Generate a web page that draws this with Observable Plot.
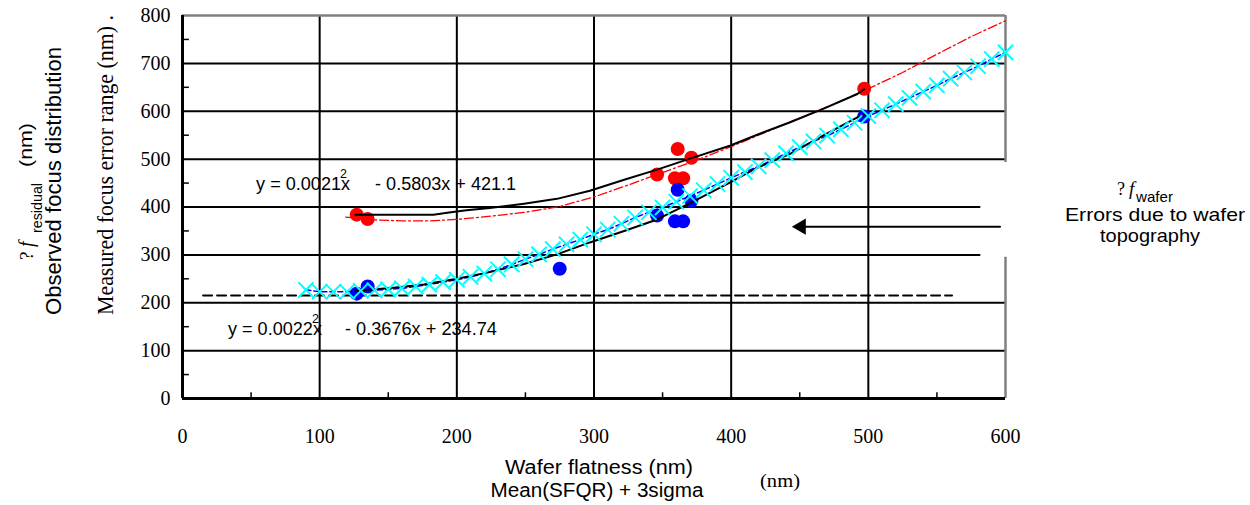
<!DOCTYPE html>
<html><head><meta charset="utf-8">
<script src="https://cdn.jsdelivr.net/npm/d3@7"></script>
<script src="https://cdn.jsdelivr.net/npm/@observablehq/plot@0.6"></script>
<style>
body{margin:0;background:#fff}
#chart{width:1250px;height:505px}
#chart svg g[aria-label$="tick label"] text{font-family:"Liberation Serif",serif;font-size:20px;fill:black}
</style>
</head><body><div id="chart"></div>
<script>
// ---- data ----
const xTicks = [0, 100, 200, 300, 400, 500, 600];
const yTicks = [0, 100, 200, 300, 400, 500, 600, 700, 800];
const xMinor = [50, 150, 250, 350, 450, 550];
const yMinor = [50, 150, 250, 350, 450, 550, 650, 750];
const gridFull = [100, 200, 500, 600, 700];
const gridShort = [300, 400];
const gridX = [100, 200, 300, 400, 500];

// measured focus error range (red) and wafer contribution (blue)
const redX = [127, 135, 346, 359, 361, 365, 371, 497];
const redY = [384, 375, 468, 460, 521, 460, 503, 647];
const blueX = [127, 135, 275, 346, 359, 361, 365, 371, 497];
const blueY = [219, 234, 271, 382, 370, 436, 370, 413, 589];

// cyan "x" markers on the blue trend line
const cyanX = [90,100,110,120,130,140,150,160,170,180,190,200,210,220,230,240,250,260,270,280,290,300,
  310,320,330,340,350,360,370,380,390,400,410,420,430,440,450,460,470,480,490,500,
  510,520,530,540,550,560,570,580,590,600];
const cyanY = [227,223,223,223,225,226,228,230,234,238,243,248,254,261,270,280,291,301,312,322,332,343,
  353,365,378,389,399,411,423,435,448,461,473,485,498,512,525,537,549,562,576,590,
  602,615,628,641,654,668,681,694,709,723];

// red dash-dot trend line
const redTrendX = [119,140,160,180,200,225,250,275,300,325,350,375,400,425,450,475,500,525,550,575,600];
const redTrendY = [379,373,371,371,374,381,389,401,421,446,472,498,526,556,586,615,647,681,719,756,789];

// upper and lower black curves
const upperX = [126,183,193,207,224,249,273,297,322,346,370,399,419,443,467,492,497];
const upperY = [384,384,388,393,398,407,417,434,457,478,501,528,551,577,605,636,646];
const lowerX = [126,152,176,200,224,249,273,297,322,346,370,399,419,443,467,492,497];
const lowerY = [225,231,238,250,264,281,301,326,350,374,408,451,482,511,549,587,592];

// horizontal dashed reference line and arrow
const dashX = [15, 561];
const dashY = 215;
const arrowX = [596, 451];
const arrowY = 359;

const pts = (xs, ys) => xs.map((x, i) => ({x, y: ys[i]}));
const red = pts(redX, redY);
const blue = pts(blueX, blueY);
const cyan = pts(cyanX, cyanY);
const redTrend = pts(redTrendX, redTrendY);
const upper = pts(upperX, upperY);
const lower = pts(lowerX, lowerY);

const plot = Plot.plot({
  width: 1250, height: 505,
  marginLeft: 182, marginRight: 245, marginTop: 15, marginBottom: 107,
  x: {domain: [0, 600]},
  y: {domain: [0, 800]},
  style: {background: "white", overflow: "visible"},
  marks: [
    Plot.axisY(yTicks, {tickSize: 0, tickPadding: 12, label: null}),
    Plot.axisX(xTicks, {tickSize: 0, tickPadding: 30, label: null}),
    // grid
    Plot.ruleY(gridFull, {x1: 0, x2: 600, stroke: "black", strokeWidth: 2}),
    Plot.ruleY(gridShort, {x1: 0, x2: 582, stroke: "black", strokeWidth: 2}),
    Plot.ruleX(gridX, {y1: 0, y2: 800, stroke: "black", strokeWidth: 2}),
    Plot.ruleY([800], {x1: 0, x2: 600, stroke: "#808080", strokeWidth: 2.5}),
    Plot.ruleX([600], {y1: 0, y2: 295, stroke: "#808080", strokeWidth: 2.5}),
    Plot.ruleX([600], {y1: 493, y2: 800, stroke: "#808080", strokeWidth: 2.5}),
    // minor ticks
    Plot.ruleY(yMinor, {x1: 0, x2: 5, stroke: "black", strokeWidth: 1.5}),
    Plot.ruleX(xMinor, {y1: 0, y2: 12, stroke: "black", strokeWidth: 1.5}),
    // dashed reference
    Plot.line(dashX.map(x => ({x, y: dashY})), {x: "x", y: "y", stroke: "black", strokeWidth: 2, strokeDasharray: "9,5"}),
    // arrow
    Plot.line(arrowX.map(x => ({x, y: arrowY})), {x: "x", y: "y", stroke: "black", strokeWidth: 2}),
    Plot.dot([{x: arrowX[1], y: arrowY}], {x: "x", y: "y", symbol: "triangle", rotate: -90, r: 6, fill: "black", stroke: null}),
    // points
    Plot.dot(red, {x: "x", y: "y", r: 7, fill: "#ff0000", stroke: null}),
    Plot.dot(blue, {x: "x", y: "y", r: 7, fill: "#0000ff", stroke: null}),
    // trend lines
    Plot.line(cyan, {x: "x", y: "y", stroke: "#0000ff", strokeWidth: 1.5, strokeDasharray: "5,3"}),
    Plot.line(redTrend, {x: "x", y: "y", stroke: "#ff0000", strokeWidth: 1.3, strokeDasharray: "9,3,2,3"}),
    // black curves
    Plot.line(upper, {x: "x", y: "y", stroke: "black", strokeWidth: 2}),
    Plot.line(lower, {x: "x", y: "y", stroke: "black", strokeWidth: 2}),
    Plot.dot(cyan, {x: "x", y: "y", symbol: "times", r: 7, stroke: "#00ffff", strokeWidth: 2}),
    // axes lines
    Plot.ruleX([0], {y1: 0, y2: 800, stroke: "black", strokeWidth: 3}),
    Plot.ruleY([0], {x1: 0, x2: 600, stroke: "black", strokeWidth: 3})
  ]
});
document.getElementById("chart").appendChild(plot);

// ---- annotations ----
const svg = d3.select(plot);
const sx = plot.scale("x"), sy = plot.scale("y");
const g = svg.append("g").attr("fill", "black").attr("text-anchor", "start");
const sans = "Liberation Sans, Arial, sans-serif";
const serif = "Liberation Serif, Times New Roman, serif";

function txt(x, y, s, {font = sans, size = 19, anchor = "start", len = null, italic = false, transform = null} = {}) {
  const t = g.append("text").attr("font-family", font).attr("font-size", size).attr("text-anchor", anchor);
  if (transform) t.attr("transform", transform); else t.attr("x", x).attr("y", y);
  if (italic) t.attr("font-style", "italic");
  if (len) t.attr("textLength", len).attr("lengthAdjust", "spacingAndGlyphs");
  t.text(s);
  return t;
}

// equations (anchored on the data scales)
function equation(x0, yv, a, b, lenA, supOff, offB, lenB) {
  const px = sx.apply(x0), py = sy.apply(yv);
  txt(px, py, a, {size: 17.5, len: lenA});
  txt(px + supOff, py - 12, "2", {size: 12.5});
  txt(px + offB, py, b, {size: 17.5, len: lenB});
}
equation(54, 434, "y = 0.0021x", "- 0.5803x + 421.1", 94, 84, 119, 141);
equation(33.5, 132, "y = 0.0022x", "- 0.3676x + 234.74", 94, 84, 117, 152);

// left rotated titles
txt(0, 0, "Measured focus error range (nm) .", {font: serif, size: 21, anchor: "middle", len: 300,
  transform: "translate(113,165) scale(1.1,1) rotate(-90)"});
txt(0, 0, "Observed focus distribution", {size: 21, anchor: "middle", len: 268,
  transform: "translate(61,181) scale(1.08,1) rotate(-90)"});
txt(0, 0, "?", {font: serif, size: 19, transform: "translate(33,260) rotate(-90)"});
txt(0, 0, "f", {font: serif, size: 20, italic: true, transform: "translate(33,247) rotate(-90)"});
txt(0, 0, "residual", {size: 14, len: 50, transform: "translate(42,233) rotate(-90)"});
txt(0, 0, "(nm)", {size: 19, len: 44, transform: "translate(32,167) rotate(-90)"});

// right annotation
txt(1117, 195, "?", {font: serif, size: 18});
txt(1129, 195, "f", {font: serif, size: 19, italic: true});
txt(1136, 202, "wafer", {size: 15, len: 37});
txt(1155, 221, "Errors due to wafer", {size: 18.5, anchor: "middle", len: 180});
txt(1150, 242, "topography", {size: 18.5, anchor: "middle", len: 100});

// bottom titles
txt(599, 474, "Wafer flatness (nm)", {size: 19.5, anchor: "middle", len: 188});
txt(597, 497, "Mean(SFQR) + 3sigma", {size: 19.5, anchor: "middle", len: 213});
txt(780, 487, "(nm)", {font: serif, size: 18, anchor: "middle", len: 40});
</script>
</body></html>
